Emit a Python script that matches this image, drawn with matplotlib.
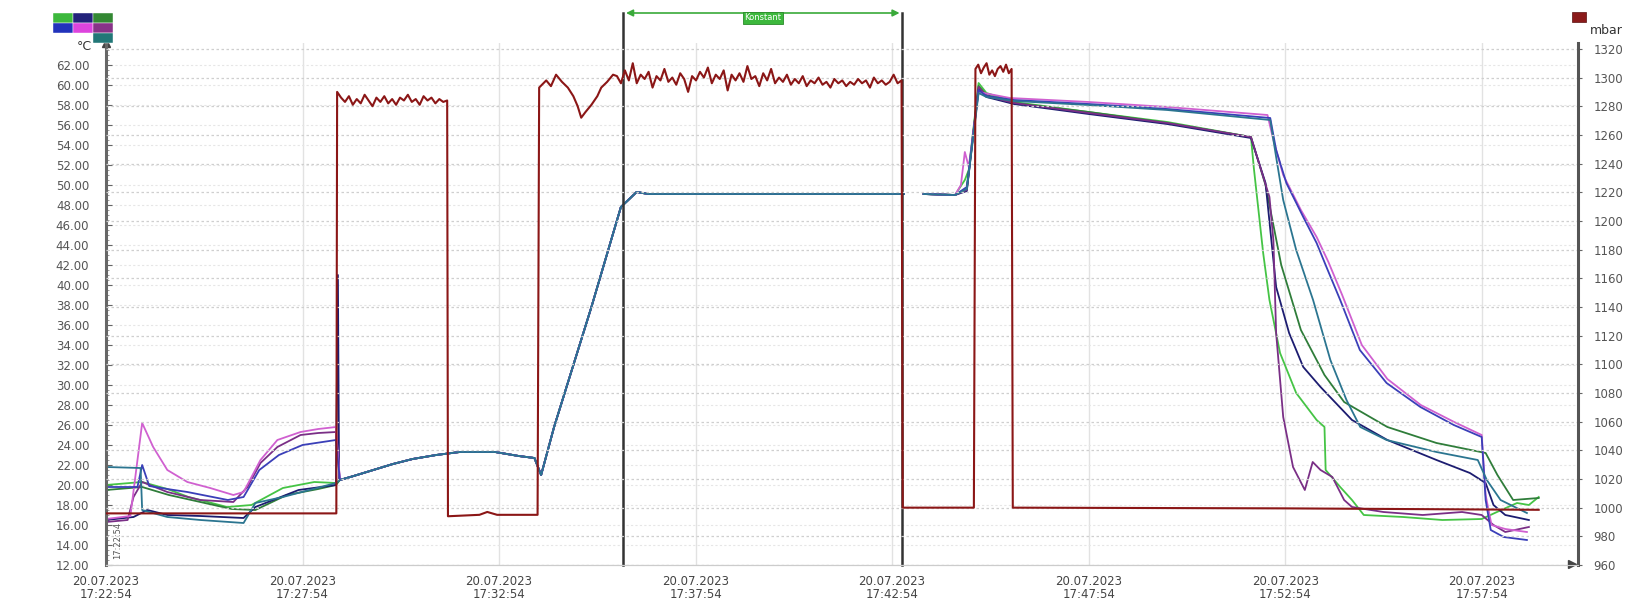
import numpy as np
import matplotlib
matplotlib.use("Agg")
import matplotlib.pyplot as plt
from matplotlib.patches import Rectangle

# x positions are minutes after 17:22:54
tick_min = [0, 5, 10, 15, 20, 25, 30, 35]
tick_labels = ["20.07.2023\n17:22:54", "20.07.2023\n17:27:54", "20.07.2023\n17:32:54",
               "20.07.2023\n17:37:54", "20.07.2023\n17:42:54", "20.07.2023\n17:47:54",
               "20.07.2023\n17:52:54", "20.07.2023\n17:57:54"]
temp_ticks = list(range(12, 63, 2))
press_ticks = list(range(960, 1321, 20))

# shared middle part of all temperature channels (heating ramp + hold)
mid_t = [5.95, 6.3, 6.8, 7.3, 7.8, 8.4, 9.0, 9.9, 10.5, 10.9, 11.07, 11.4, 12.35, 13.1, 13.5, 13.8, 20.3]
mid_v = [20.5, 20.9, 21.5, 22.1, 22.6, 23.0, 23.3, 23.3, 22.9, 22.7, 21.0, 25.8, 37.8, 47.8, 49.3, 49.1, 49.1]
gap_t = [20.5, 20.8, 21.6]
gap_v = [np.nan, 49.1, 49.0]

# per channel: start (before 6 min) and end (after 21.6 min)
magenta_t0 = [0, 0.62, 0.92, 1.2, 1.56, 2.07, 2.65, 3.24, 3.5, 3.93, 4.36, 4.95, 5.4, 5.85]
magenta_v0 = [16.6, 16.9, 26.2, 23.8, 21.5, 20.3, 19.7, 19.0, 19.3, 22.5, 24.5, 25.3, 25.6, 25.8]
magenta_t1 = [21.75, 21.85, 21.95, 22.2, 23.0, 25.0, 27.0, 29.55, 29.7, 29.95, 30.4, 30.8, 31.1, 31.45,
              31.95, 32.6, 33.45, 34.3, 35.0, 35.1, 35.25, 35.6, 36.15]
magenta_v1 = [50.0, 53.3, 51.8, 59.3, 58.7, 58.3, 57.8, 57.0, 54.5, 51.0, 47.5, 44.8, 42.3, 39.0,
              34.0, 30.6, 28.0, 26.3, 25.0, 19.0, 16.0, 15.6, 15.3]

purple_t0 = [0, 0.55, 0.7, 0.92, 1.56, 2.4, 3.24, 3.6, 3.93, 4.36, 4.95, 5.4, 5.85]
purple_v0 = [16.3, 16.5, 18.8, 20.3, 19.3, 18.5, 18.3, 19.8, 22.2, 23.8, 25.0, 25.2, 25.3]
purple_t1 = [21.9, 22.2, 22.4, 23.1, 25.0, 27.0, 29.13, 29.6, 29.7, 29.77, 29.95, 30.2, 30.5, 30.7,
             30.9, 31.2, 31.5, 31.7, 32.5, 33.5, 34.5, 35.0, 35.3, 35.6, 36.2]
purple_v1 = [49.5, 59.8, 58.9, 58.2, 57.2, 56.2, 54.8, 48.8, 44.5, 35.2, 26.8, 21.8, 19.5, 22.3,
             21.5, 20.8, 18.5, 17.8, 17.3, 17.0, 17.3, 17.0, 16.0, 15.3, 15.8]

blue_t0 = [0, 0.8, 0.92, 1.1, 1.56, 2.07, 3.1, 3.5, 3.9, 4.4, 5.0, 5.85]
blue_v0 = [19.8, 19.8, 22.0, 19.9, 19.6, 19.3, 18.5, 18.8, 21.5, 23.0, 24.0, 24.5]
blue_t1 = [21.9, 22.2, 22.4, 23.1, 25.0, 27.0, 29.62, 29.77, 30.03, 30.46, 30.8, 31.05, 31.4, 31.9,
           32.58, 33.44, 34.29, 35.0, 35.1, 35.23, 35.56, 36.15]
blue_v1 = [49.8, 59.5, 58.9, 58.5, 58.1, 57.6, 56.7, 53.5, 50.2, 46.8, 44.2, 41.8, 38.5, 33.5,
           30.2, 27.8, 26.0, 24.8, 18.5, 15.5, 14.8, 14.5]

green_t0 = [0, 0.92, 1.56, 2.1, 3.08, 3.7, 4.5, 5.3, 5.85]
green_v0 = [20.0, 20.3, 19.6, 18.8, 17.8, 18.0, 19.7, 20.3, 20.2]
green_t1 = [21.85, 21.95, 22.2, 22.4, 23.1, 25.0, 27.0, 29.13, 29.2, 29.44, 29.6, 29.87, 30.28, 30.8,
            31.0, 31.03, 31.4, 31.7, 32.0, 33.0, 34.0, 35.0, 35.5, 35.9, 36.2, 36.45]
green_v1 = [50.5, 51.5, 60.2, 59.2, 58.3, 57.3, 56.3, 54.8, 51.8, 43.2, 38.5, 33.2, 29.2, 26.5,
            25.8, 21.5, 19.8, 18.5, 17.0, 16.8, 16.5, 16.6, 17.5, 18.2, 18.0, 18.8]

dkgreen_t0 = [0, 0.92, 1.6, 2.4, 3.2, 3.8, 4.6, 5.4, 5.85]
dkgreen_v0 = [19.5, 19.8, 19.0, 18.3, 17.6, 17.5, 19.0, 19.6, 20.0]
dkgreen_t1 = [21.9, 22.2, 22.4, 23.1, 25.0, 27.0, 29.13, 29.5, 29.9, 30.4, 31.0, 31.5, 32.6, 33.85,
              35.1, 35.4, 35.8, 36.45]
dkgreen_v1 = [49.6, 59.9, 59.0, 58.2, 57.3, 56.2, 54.8, 50.0, 42.0, 35.5, 31.0, 28.3, 25.8, 24.2,
              23.2, 21.0, 18.5, 18.7]

teal_t0 = [0, 0.88, 0.92, 1.56, 2.4, 3.5, 3.8, 4.5, 5.85]
teal_v0 = [21.8, 21.7, 17.5, 16.8, 16.5, 16.2, 18.2, 18.8, 20.2]
teal_t1 = [21.9, 22.2, 22.4, 23.1, 25.0, 27.0, 29.62, 29.77, 29.95, 30.28, 30.71, 31.15, 31.56, 31.91,
           32.58, 33.85, 34.9, 35.13, 35.48, 36.15]
teal_v1 = [49.6, 59.2, 58.8, 58.4, 58.0, 57.5, 56.5, 52.8, 48.5, 43.5, 38.5, 32.5, 28.5, 25.8,
           24.5, 23.3, 22.5, 20.5, 18.5, 17.2]

navy_t0 = [0, 0.7, 1.05, 1.56, 2.4, 3.5, 3.8, 4.9, 5.85, 5.9, 5.93]
navy_v0 = [16.5, 16.8, 17.5, 17.0, 16.9, 16.7, 17.8, 19.5, 20.0, 41.0, 20.5]
navy_t1 = [21.9, 22.2, 22.4, 23.1, 25.0, 27.0, 29.13, 29.5, 29.63, 29.77, 30.1, 30.46, 30.9, 31.7,
           32.6, 33.85, 34.7, 35.1, 35.3, 35.6, 36.2]
navy_v1 = [49.4, 59.6, 58.8, 58.1, 57.1, 56.1, 54.7, 50.2, 45.2, 39.8, 35.2, 31.8, 29.8, 26.5,
           24.5, 22.5, 21.2, 20.2, 18.0, 17.0, 16.5]

# pressure (mbar)
p_base1_t = [0, 5.86]
p_base1_v = [996, 996]
p_seg1_v = [1290, 1286, 1283, 1287, 1281, 1285, 1282, 1288, 1284, 1280, 1286, 1283, 1287, 1282, 1285,
            1281, 1286, 1284, 1288, 1283, 1285, 1281, 1287, 1284, 1286, 1282, 1285, 1283, 1284]
p_base2_t = [8.70, 9.5, 9.7, 9.95, 10.98]
p_base2_v = [994, 995, 997, 995, 995]
p_dip_t = [11.02, 11.2, 11.32, 11.45, 11.6, 11.75, 11.89, 12.0, 12.09, 12.2, 12.35, 12.5, 12.6, 12.75, 12.9]
p_dip_v = [1293, 1298, 1294, 1302, 1297, 1293, 1287, 1280, 1272, 1276, 1281, 1287, 1293, 1297, 1302]
p_seg2_v = [1301, 1296, 1305, 1298, 1310, 1296, 1302, 1299, 1304, 1293, 1301, 1298, 1306, 1297, 1300,
            1295, 1303, 1299, 1290, 1301, 1298, 1304, 1300, 1307, 1296, 1302, 1299, 1305, 1291, 1302,
            1298, 1303, 1297, 1308, 1299, 1301, 1294, 1303, 1298, 1306, 1296, 1300, 1297, 1302, 1295,
            1299, 1296, 1301, 1294, 1298, 1296, 1300, 1295, 1297, 1293, 1299, 1296, 1298, 1294, 1297,
            1295, 1299, 1296, 1298, 1293, 1300, 1296, 1298, 1295, 1297, 1302, 1296, 1298]
p_base3_t = [20.27, 22.08]
p_base3_v = [1000, 1000]
p_seg3_v = [1306, 1309, 1303, 1307, 1310, 1302, 1305, 1301, 1306, 1308, 1304, 1309, 1303, 1306]
p_base4_t = [23.07, 30.0, 36.45]
p_base4_v = [1000, 999.5, 998.5]


def build(t0, v0, t1, v1):
    return t0 + mid_t + gap_t + t1, v0 + mid_v + gap_v + v1


press_t = (p_base1_t + list(np.linspace(5.88, 8.68, len(p_seg1_v))) + p_base2_t + p_dip_t
           + list(np.linspace(13.0, 20.24, len(p_seg2_v))) + p_base3_t
           + list(np.linspace(22.12, 23.04, len(p_seg3_v))) + p_base4_t)
press_v = p_base1_v + p_seg1_v + p_base2_v + p_dip_v + p_seg2_v + p_base3_v + p_seg3_v + p_base4_v

W, H = 1652, 601
fig = plt.figure(figsize=(W / 100, H / 100), dpi=100)
fig.patch.set_facecolor("white")
ax = fig.add_axes([106 / W, 1 - 565 / H, (1578 - 106) / W, (565 - 43) / H])
ax2 = ax.twinx()

ax.set_xlim(0, 37.45)
ax.set_ylim(12, 64.2)
ax2.set_ylim(960, 1324.1)

# grid
ax.set_xticks(tick_min)
ax.set_xticklabels(tick_labels, fontsize=8.5, color="#444444", linespacing=1.0)
ax.set_yticks(temp_ticks)
ax.set_yticklabels([f"{v:.2f}" for v in temp_ticks], fontsize=8.5, color="#555555")
ax.set_yticks(np.arange(12, 64, 0.5), minor=True)
ax.grid(axis="x", color="#e2e2e2", lw=1.0)
ax.grid(axis="y", color="#e6e6e6", ls=(0, (2, 2)), lw=0.8)
ax2.set_yticks(press_ticks)
ax2.set_yticklabels([str(v) for v in press_ticks], fontsize=8.5, color="#555555")
ax2.grid(axis="y", color="#cfcfcf", ls=(0, (2, 2)), lw=0.9)

ax.tick_params(axis="x", length=0, pad=7)
ax.tick_params(axis="y", which="major", direction="in", length=4, color="#666666", pad=12)
ax.tick_params(axis="y", which="minor", direction="in", length=2, color="#888888")
ax2.tick_params(axis="y", direction="out", length=3, color="#666666", pad=8)

for a in (ax, ax2):
    a.spines["top"].set_visible(False)
    a.spines["bottom"].set_color("#cccccc")
ax.spines["left"].set_color("#666666")
ax.spines["left"].set_linewidth(2.2)
ax.spines["right"].set_visible(False)
ax2.spines["left"].set_visible(False)
ax2.spines["right"].set_color("#555555")
ax2.spines["right"].set_linewidth(2.2)

# temperature channels
channels = [
    (green_t0, green_v0, green_t1, green_v1, "#45c445"),
    (dkgreen_t0, dkgreen_v0, dkgreen_t1, dkgreen_v1, "#2f7d3a"),
    (navy_t0, navy_v0, navy_t1, navy_v1, "#1c1c70"),
    (purple_t0, purple_v0, purple_t1, purple_v1, "#7a2f86"),
    (magenta_t0, magenta_v0, magenta_t1, magenta_v1, "#d060d0"),
    (blue_t0, blue_v0, blue_t1, blue_v1, "#3a3fb8"),
    (teal_t0, teal_v0, teal_t1, teal_v1, "#2b7590"),
]
for t0, v0, t1, v1, col in channels:
    tt, vv = build(t0, v0, t1, v1)
    ax.plot(tt, vv, color=col, lw=1.3)

ax2.plot(press_t, press_v, color="#8b1616", lw=1.5)

# cursor lines and bracket
cur_a, cur_b = 13.16, 20.26
for c in (cur_a, cur_b):
    ax.plot([c, c], [12, 67.2], color="#333333", lw=1.8, clip_on=False, zorder=5)
ax.annotate("", xy=(cur_a, 67.2), xytext=(cur_b, 67.2), annotation_clip=False,
            arrowprops=dict(arrowstyle="<|-|>", color="#3aaa3a", lw=1.2, mutation_scale=10))
ax.text((cur_a + cur_b) / 2, 66.7, "Konstant", ha="center", va="center", fontsize=6, color="white",
        bbox=dict(boxstyle="square,pad=0.15", fc="#3cb83c", ec="#2a8a2a", lw=0.6), clip_on=False)

# axis arrows and labels
ax.plot(0, 1, marker="^", color="#444444", ms=6, transform=ax.transAxes, clip_on=False)
ax2.plot(0.996, 0.002, marker=">", color="#444444", ms=6, transform=ax2.transAxes, clip_on=False)
ax.text(0.3, 14.5, "17:22:54", rotation=90, fontsize=6, color="#555555", ha="center", va="center")
fig.text(92 / W, 1 - 47 / H, "°C", ha="right", va="center", fontsize=9, color="#333333")
fig.text(1590 / W, 1 - 31 / H, "mbar", ha="left", va="center", fontsize=9, color="#333333")

# channel colour key
key_cells = [(53, 13, "#3cb83c"), (73, 13, "#22227a"), (93, 13, "#338833"),
             (53, 23, "#2233bb"), (73, 23, "#dd44dd"), (93, 23, "#883388"),
             (93, 33, "#227777")]
for x, y, col in key_cells:
    fig.add_artist(Rectangle((x / W, 1 - (y + 10) / H), 20 / W, 10 / H, transform=fig.transFigure,
                             facecolor=col, edgecolor="white", lw=0.3))
fig.add_artist(Rectangle((1572 / W, 1 - 22 / H), 14 / W, 10 / H, transform=fig.transFigure,
                         facecolor="#8b1a1a", edgecolor="#5a1010", lw=0.5))

fig.savefig("out.png", dpi=100)
